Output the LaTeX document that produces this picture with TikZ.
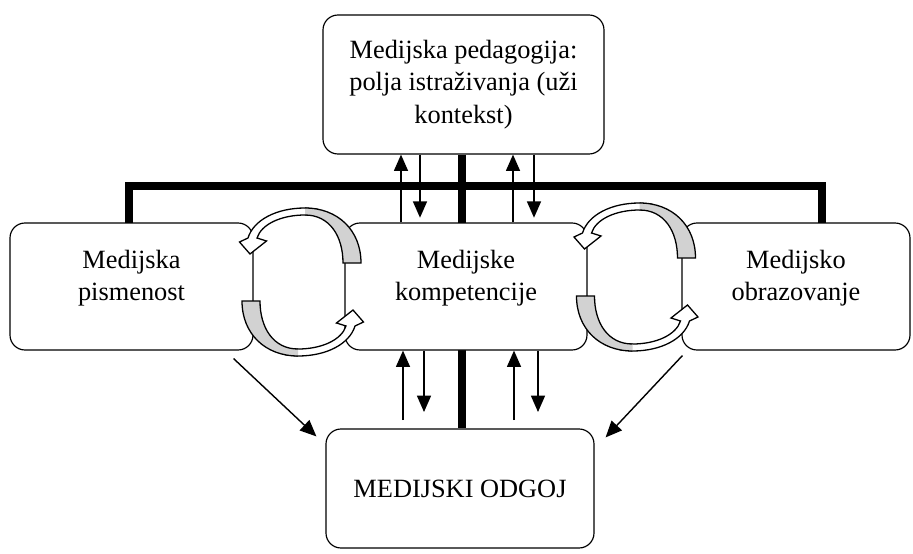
\documentclass[tikz,border=0pt]{standalone}
\usepackage{fontspec}
\setmainfont{Liberation Serif}
\usetikzlibrary{arrows.meta}
\tikzstyle{box} = [
    draw,
    line width=1pt,
    fill=white,
    rounded corners=0.45cm,
    align=center,
    font=\fontsize{22.5}{27.5}\selectfont]
\tikzstyle{side} = [
    box,
    minimum height=3.81cm,
    text depth=19pt]
\tikzstyle{bar} = [line width=0.24cm]
\tikzstyle{arr} = [line width=1.2pt, -{Triangle[length=14pt,width=12pt]}]
\tikzset{
    pics/turn/.style={code={
        \filldraw[line width=1.1pt, fill=white]
            (16,-72.8) -- (3.5,-74) .. controls (-25,-74) and (-48,-62) .. (-53.5,-44)
            -- (-62,-40) -- (-51.5,-28) -- (-35,-41) -- (-44.5,-44)
            .. controls (-40,-58) and (-20,-67) .. (3.5,-67) -- (16,-67.3) -- cycle;
        \fill[gray!35]
            (59.5,-19) .. controls (59.5,-52) and (36,-74) .. (3.5,-74)
            -- (3.5,-67) .. controls (28,-67) and (41.5,-46) .. (41.5,-19) -- cycle;
        \draw[line width=1.1pt]
            (3.5,-74) .. controls (36,-74) and (59.5,-52) .. (59.5,-19)
            -- (41.5,-19) .. controls (41.5,-46) and (28,-67) .. (3.5,-67);
    }}
}

\begin{document}
\begin{tikzpicture}[x=0.03cm, y=-0.03cm]
        \useasboundingbox (0,0) rectangle (913,554);

        % bars behind the boxes
        \coordinate (barL) at (129,186);
        \coordinate (barR) at (822,186);
        \node[box, minimum width=8.43cm, minimum height=4.17cm] (ped) at (463.5,84.5)
            {Medijska pedagogija:\\polja istraživanja (uži\\kontekst)};
        \node[box, minimum width=8.04cm, minimum height=3.57cm] (odg) at (460,488.5)
            {MEDIJSKI ODGOJ};
        \draw[bar] (barL |- 0,223) -- (barL) -- (barR) -- (barR |- 0,223);
        \draw[bar] (ped.south -| 462,0) -- (odg.north -| 462,0);

        \node[side, minimum width=7.29cm] (pis) at (131.5,286.5) {Medijska\\pismenost};
        \node[side, minimum width=7.26cm] (komp) at (466,286.5) {Medijske\\kompetencije};
        \node[side, minimum width=6.84cm] (obr) at (796,286.5) {Medijsko\\obrazovanje};

        % up and down
        \draw[arr] (komp.north -| 401,0) -- (ped.south -| 401,0);
        \draw[arr, shorten >=4pt] (ped.south -| 420,0) -- (komp.north -| 420,0);
        \draw[arr] (komp.north -| 513,0) -- (ped.south -| 513,0);
        \draw[arr, shorten >=4pt] (ped.south -| 534,0) -- (komp.north -| 534,0);
        \draw[arr, shorten <=7pt] (odg.north -| 403,0) -- (komp.south -| 403,0);
        \draw[arr, shorten >=14pt] (komp.south -| 424,0) -- (odg.north -| 424,0);
        \draw[arr, shorten <=7pt] (odg.north -| 514,0) -- (komp.south -| 514,0);
        \draw[arr, shorten >=14pt] (komp.south -| 538,0) -- (odg.north -| 538,0);

        \draw[arr] ([shift={(-20,8)}]pis.south east) -- ([shift={(-9,8)}]odg.north west);
        \draw[arr] ([shift={(1,5)}]obr.south west) -- ([shift={(11,9)}]odg.north east);

        % turning arrows
        \pic at (301.5,282) {turn};
        \pic[rotate=180] at (301.5,282) {turn};
        \pic at (636,277) {turn};
        \pic[rotate=180] at (636,277) {turn};
    \end{tikzpicture}
\end{document}
